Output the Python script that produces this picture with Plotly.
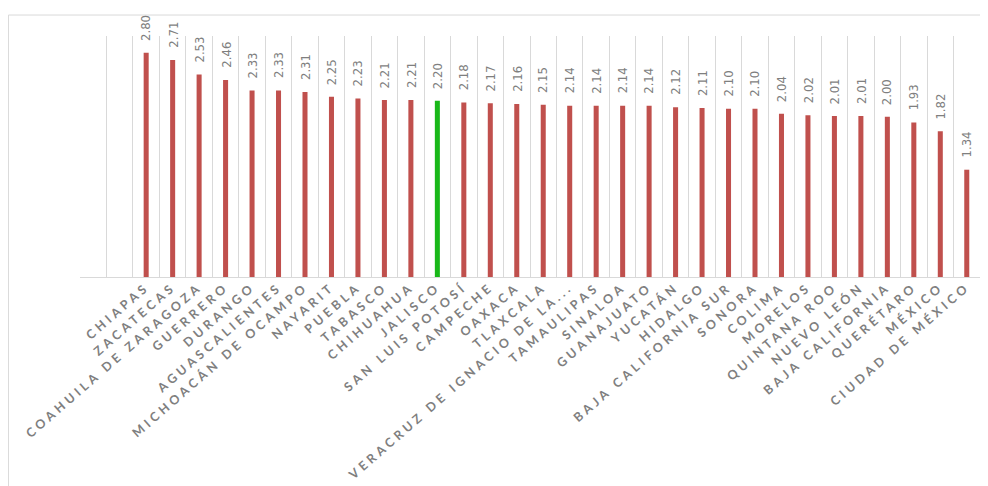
import numpy as np
import plotly.graph_objects as go

states = [
    "CHIAPAS", "ZACATECAS", "COAHUILA DE ZARAGOZA", "GUERRERO", "DURANGO",
    "AGUASCALIENTES", "MICHOACÁN DE OCAMPO", "NAYARIT", "PUEBLA", "TABASCO",
    "CHIHUAHUA", "JALISCO", "SAN LUIS POTOSÍ", "CAMPECHE", "OAXACA", "TLAXCALA",
    "VERACRUZ DE IGNACIO DE LA...", "TAMAULIPAS", "SINALOA", "GUANAJUATO",
    "YUCATÁN", "HIDALGO", "BAJA CALIFORNIA SUR", "SONORA", "COLIMA", "MORELOS",
    "QUINTANA ROO", "NUEVO LEÓN", "BAJA CALIFORNIA", "QUERÉTARO", "MÉXICO",
    "CIUDAD DE MÉXICO",
]
values = [
    2.80, 2.71, 2.53, 2.46, 2.33, 2.33, 2.31, 2.25, 2.23, 2.21, 2.21, 2.20,
    2.18, 2.17, 2.16, 2.15, 2.14, 2.14, 2.14, 2.14, 2.12, 2.11, 2.10, 2.10,
    2.04, 2.02, 2.01, 2.01, 2.00, 1.93, 1.82, 1.34,
]
highlight = "JALISCO"
n_blank_slots = 2  # empty category slots at the left of the axis

RED = "#C0504D"
GREEN = "#19B819"
GRID = "#D9D9D9"
TEXT = "#7F7F7F"

x = np.arange(len(states))
colors = [GREEN if s == highlight else RED for s in states]

fig = go.Figure()
fig.add_trace(go.Bar(
    x=x, y=values, marker_color=colors, marker_line_width=0,
    width=0.19, hoverinfo="skip", showlegend=False,
))

for xi, v in zip(x, values):
    fig.add_annotation(
        x=xi, y=v, xref="x", yref="y", text=f"{v:.2f}", showarrow=False,
        textangle=-90, yanchor="bottom", xanchor="center", yshift=10,
        font=dict(family="DejaVu Sans Condensed", size=13, color=TEXT),
    )

boundaries = np.arange(-n_blank_slots - 0.5, len(states), 1.0)

fig.update_xaxes(
    range=[-n_blank_slots - 0.5, len(states) - 0.5],
    tickmode="array", tickvals=x, ticktext=states, tickangle=-41,
    ticks="", showgrid=False, zeroline=False, ticklabelstandoff=-3,
    showline=True, linecolor=GRID, linewidth=1,
    tickfont=dict(family="Lato", size=12.5, color=TEXT, weight="bold"),
    minor=dict(tickmode="array", tickvals=boundaries, showgrid=True,
               gridcolor=GRID, gridwidth=1, ticks=""),
    automargin=False,
)
fig.update_yaxes(
    range=[0, 3.01], visible=False, showgrid=False, zeroline=False,
)

fig.add_shape(
    type="rect", xref="paper", yref="paper",
    x0=-0.0795, x1=1.0078, y0=-0.95, y1=1.087,
    line=dict(color=GRID, width=1), fillcolor="rgba(0,0,0,0)", layer="below",
)

fig.update_layout(
    width=988, height=486,
    margin=dict(l=72, r=16, t=28, b=217),
    plot_bgcolor="white", paper_bgcolor="white",
    bargap=0.8,
)

post = (
    "var s=document.createElement('style');"
    "s.textContent='.xtick text{letter-spacing:3.7px;}';"
    "document.head.appendChild(s);"
)
fig.write_html("out.html", post_script=post)
